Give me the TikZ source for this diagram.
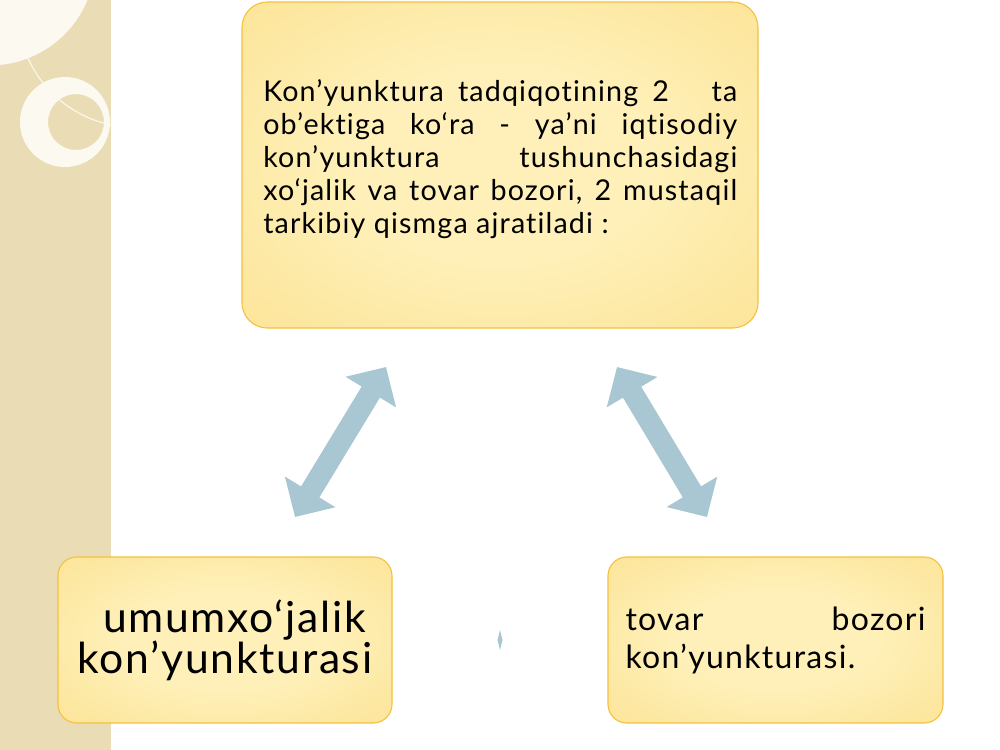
\documentclass[tikz,border=0pt]{standalone}
\usepackage{fontspec}
\setmainfont{Lato}[LetterSpace=4, Ligatures=NoCommon]
\usetikzlibrary{arrows.meta}

\definecolor{band}{HTML}{EADDB6}
\definecolor{ringcol}{HTML}{FCF9F0}
\definecolor{boxedge}{HTML}{F4C03E}
\definecolor{boxin}{HTML}{FEF0B8}
\definecolor{boxout}{HTML}{FBD671}
\definecolor{arrowblue}{HTML}{A9C6D3}
\pgfdeclareradialshading{boxglow}{\pgfpointorigin}{color(0bp)=(boxin); color(15bp)=(boxin); color(62bp)=(boxout); color(80bp)=(boxout)}

\begin{document}
\begin{tikzpicture}[x=0.75pt,y=-0.75pt,
    box/.style={draw=boxedge, line width=0.8pt, shading=boxglow, inner sep=0pt},
    link/.style={draw=arrowblue, line width=16pt, {Triangle[width=43pt,length=22pt]}-{Triangle[width=43pt,length=22pt]}}]

    \useasboundingbox (0,0) rectangle (1000,750);

    % left band with rings
    \begin{scope}
        \clip (0,0) rectangle (111,750);
        \fill[band] (0,0) rectangle (111,750);
        \fill[ringcol] (-10,-40) circle (79pt);
        \fill[ringcol, even odd rule] (65,122) circle (33.75pt) (76,122) circle (21pt);
        \draw[ringcol, line width=0.8pt] (135,10) circle (88pt);
    \end{scope}

    \node[box, rounded corners=19pt, minimum width=387pt, minimum height=244.5pt] (obj) at (500,165) {};
    \node[anchor=north west, inner sep=0pt, text width=355.5pt, align=justify,
          font=\fontsize{21.5}{24.75}\selectfont] (objtext) at (263,79)
        {Kon’yunktura tadqiqotining 2~~ ta\linebreak ob’ektiga ko‘ra - ya’ni iqtisodiy\linebreak kon’yunktura tushunchasidagi\linebreak xo‘jalik va tovar bozori, 2 mustaqil\linebreak tarkibiy qismga ajratiladi :};

    \node[box, rounded corners=14pt, minimum width=250.5pt, minimum height=124.5pt, align=center,
          font=\fontsize{32}{30.75}\selectfont] (gen) at (225,640)
        {\hspace*{14pt}umumxo‘jalik\\kon’yunkturasi};

    \node[box, rounded corners=14pt, minimum width=251.25pt, minimum height=124.5pt, text width=225pt, align=justify,
          font=\fontsize{24}{28.5}\selectfont] (mkt) at (775.5,640)
        {tovar bozori\linebreak kon’yunkturasi.};

    \fill[arrowblue] (500,630) -- (502.5,640) -- (500,650) -- (497.5,640) -- cycle;

    \coordinate (l1) at (295,517);
    \coordinate (l2) at (386,367);
    \coordinate (r1) at (617,367);
    \coordinate (r2) at (707,517);
    \draw[link] (l1) -- (l2);
    \draw[link] (r1) -- (r2);

\end{tikzpicture}
\end{document}
